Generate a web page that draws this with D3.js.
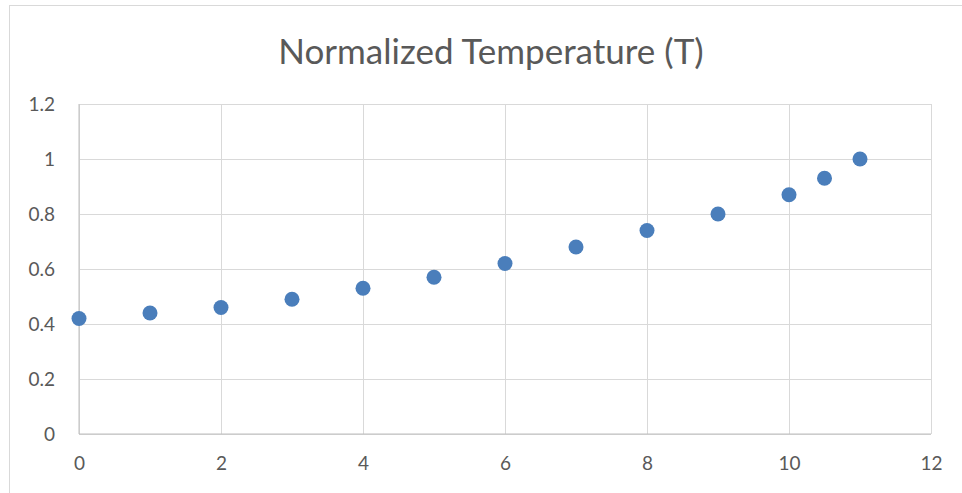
<!DOCTYPE html>
<html>
<head>
<meta charset="utf-8">
<script src="https://cdn.jsdelivr.net/npm/d3@7"></script>
<style>
  body { margin: 0; background: #fff; }
  text { font-family: Lato, "Open Sans", sans-serif; fill: #595959; }
</style>
</head>
<body>
<div id="chart"></div>
<script>
// values
var xValues = [0, 1, 2, 3, 4, 5, 6, 7, 8, 9, 10, 10.5, 11];
var tValues = [0.42, 0.44, 0.46, 0.49, 0.53, 0.57, 0.62, 0.68, 0.74, 0.80, 0.87, 0.93, 1.0];
var xTicks = [0, 2, 4, 6, 8, 10, 12];
var yTicks = [0, 0.2, 0.4, 0.6, 0.8, 1, 1.2];
var title = "Normalized Temperature (T)";

var W = 962, H = 493;
var margin = {top: 104, right: 31, bottom: 59, left: 79},
    width = W - margin.left - margin.right,
    height = H - margin.top - margin.bottom;

var svg = d3.select("#chart").append("svg")
    .attr("width", W)
    .attr("height", H);

// chart frame (runs off the right and bottom edges)
svg.append("rect")
  .attr("x", 9.5).attr("y", 5.5)
  .attr("width", W).attr("height", H)
  .attr("fill", "none")
  .attr("stroke", "#d9d9d9");

svg.append("text")
  .attr("x", 491).attr("y", 64)
  .attr("text-anchor", "middle")
  .style("font-size", "35px")
  .text(title);

var g = svg.append("g")
  .attr("transform", "translate(" + margin.left + "," + margin.top + ")");

var x = d3.scaleLinear().domain([0, 12]).range([0, width]);
var y = d3.scaleLinear().domain([0, 1.2]).range([height, 0]);

// gridlines
g.append("g")
  .call(d3.axisLeft(y).tickValues(yTicks).tickSize(-width).tickFormat(""))
  .call(a => a.select(".domain").remove())
  .selectAll("line").attr("stroke", "#d9d9d9");
g.append("g")
  .attr("transform", "translate(0," + height + ")")
  .call(d3.axisBottom(x).tickValues(xTicks).tickSize(-height).tickFormat(""))
  .call(a => a.select(".domain").remove())
  .selectAll("line").attr("stroke", "#d9d9d9");

// axis lines
g.append("line").attr("x1", 0).attr("x2", 0).attr("y1", 0).attr("y2", height)
  .attr("stroke", "#bfbfbf");
g.append("line").attr("x1", 0).attr("x2", width).attr("y1", height).attr("y2", height)
  .attr("stroke", "#bfbfbf");

// tick labels
var yAxis = g.append("g")
  .call(d3.axisLeft(y).tickValues(yTicks).tickSize(0).tickPadding(24).tickFormat(d3.format("")));
yAxis.select(".domain").remove();
yAxis.attr("font-size", null).attr("font-family", null);
yAxis.selectAll("text").style("font-size", "19px").attr("fill", "#595959");

var xAxis = g.append("g")
  .attr("transform", "translate(0," + height + ")")
  .call(d3.axisBottom(x).tickValues(xTicks).tickSize(0).tickPadding(23).tickFormat(d3.format("")));
xAxis.select(".domain").remove();
xAxis.attr("font-size", null).attr("font-family", null);
xAxis.selectAll("text").style("font-size", "19px").attr("fill", "#595959");

// points
g.selectAll("circle")
  .data(xValues.map((v, i) => ({x: v, t: tValues[i]})))
  .enter().append("circle")
  .attr("cx", d => x(d.x))
  .attr("cy", d => y(d.t))
  .attr("r", 7.5)
  .attr("fill", "#4a7ebb");
</script>
</body>
</html>
